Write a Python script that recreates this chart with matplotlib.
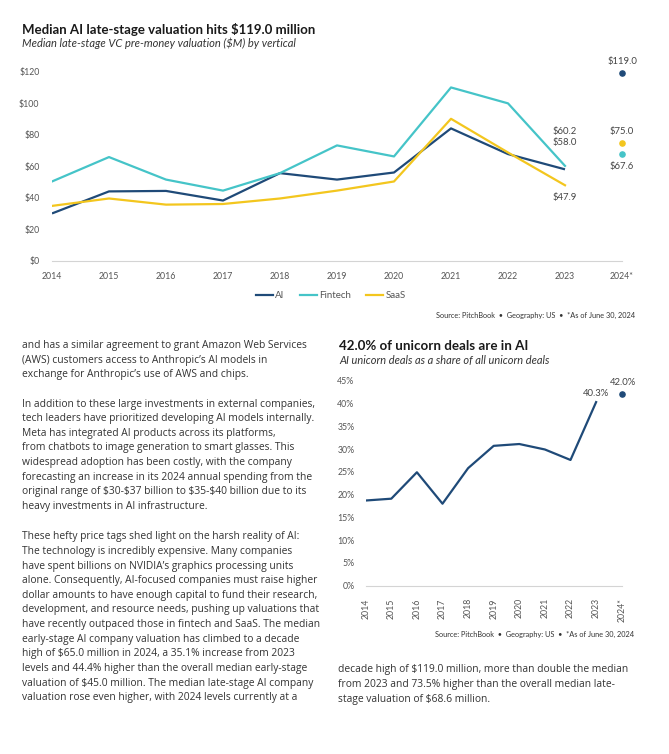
import matplotlib
matplotlib.use("Agg")
import matplotlib.pyplot as plt
from matplotlib.lines import Line2D

# ---------------- data ----------------
years = [2014, 2015, 2016, 2017, 2018, 2019, 2020, 2021, 2022, 2023]
year_2024 = 2024
ai_vals = [30.0, 44.0, 44.3, 38.2, 55.6, 51.5, 56.0, 84.0, 67.7, 58.0]
fintech_vals = [50.3, 65.8, 51.5, 44.5, 55.6, 73.2, 66.2, 110.0, 99.9, 60.2]
saas_vals = [34.8, 39.5, 35.6, 36.0, 39.5, 44.5, 50.3, 90.1, 68.7, 47.9]
ai_2024 = 119.0
fintech_2024 = 67.6
saas_2024 = 75.0
xtick_labels = ["2014", "2015", "2016", "2017", "2018", "2019", "2020",
                "2021", "2022", "2023", "2024*"]
yticks1 = [0, 20, 40, 60, 80, 100, 120]
ytick1_labels = ["\\$0", "\\$20", "\\$40", "\\$60", "\\$80", "\\$100", "\\$120"]

share_vals = [18.7, 19.1, 24.9, 18.0, 25.8, 30.7, 31.1, 29.9, 27.6, 40.3]
share_2024 = 42.0
yticks2 = [0, 5, 10, 15, 20, 25, 30, 35, 40, 45]
ytick2_labels = ["0%", "5%", "10%", "15%", "20%", "25%", "30%", "35%", "40%", "45%"]

# ---------------- style ----------------
C_AI = "#1f4a78"
C_FIN = "#45c4c8"
C_SAAS = "#f3c61e"
C_TXT = "#333333"
C_TICK = "#555555"
C_BASE = "#d4d4d4"
TICKFONT = "Lato"
BODYFONT = "Open Sans"

W, H = 669, 754
fig = plt.figure(figsize=(W / 100, H / 100), dpi=100)
fig.patch.set_facecolor("white")
renderer = fig.canvas.get_renderer()


def fx(px):
    return px / W


def fy(py):
    return 1 - py / H


def ftext(px, py, s, width=None, size=8, **kw):
    t = fig.text(fx(px), fy(py), s, fontsize=size, parse_math=False, **kw)
    if width is not None:
        w = t.get_window_extent(renderer).width
        t.set_fontsize(size * width / w)
    return t


def fit_size(s, width, **kw):
    t = fig.text(0, 0, s, fontsize=10, parse_math=False, **kw)
    w = t.get_window_extent(renderer).width
    t.remove()
    return 10 * width / w


# ---------------- chart 1 ----------------
ax1 = fig.add_axes([fx(52), fy(260.7), fx(622) - fx(52), (260.7 - 71.7) / H])
ax1.plot(years, ai_vals, color=C_AI, lw=1.6, label="AI", solid_capstyle="butt")
ax1.plot(years, fintech_vals, color=C_FIN, lw=1.6, label="Fintech")
ax1.plot(years, saas_vals, color=C_SAAS, lw=1.6, label="SaaS")
ax1.scatter([year_2024], [ai_2024], s=14, color=C_AI, clip_on=False, zorder=5)
ax1.scatter([year_2024], [fintech_2024], s=14, color=C_FIN, clip_on=False, zorder=5)
ax1.scatter([year_2024], [saas_2024], s=14, color=C_SAAS, clip_on=False, zorder=5)
ax1.set_xlim(2014, 2024)
ax1.set_ylim(0, 120)
ax1.set_xticks(years + [year_2024])
ax1.set_xticklabels(xtick_labels)
ax1.set_yticks(yticks1)
ax1.set_yticklabels(ytick1_labels)
for sp in ["top", "right", "left"]:
    ax1.spines[sp].set_visible(False)
ax1.spines["bottom"].set_color(C_BASE)
ax1.spines["bottom"].set_linewidth(0.8)
ax1.tick_params(axis="both", length=0, labelsize=6.3, labelcolor=C_TICK)
ax1.tick_params(axis="y", pad=9)
ax1.tick_params(axis="x", pad=8)
for lab in ax1.get_xticklabels() + ax1.get_yticklabels():
    lab.set_fontfamily(TICKFONT)

lblkw = dict(fontsize=6.8, color="#444444", fontfamily=TICKFONT, ha="center",
             parse_math=False)
ax1.annotate("$60.2", (years[-1], fintech_vals[-1]), xytext=(0, 34),
             textcoords="offset pixels", va="center", **lblkw)
ax1.annotate("$58.0", (years[-1], ai_vals[-1]), xytext=(0, 27),
             textcoords="offset pixels", va="center", **lblkw)
ax1.annotate("$47.9", (years[-1], saas_vals[-1]), xytext=(0, -12),
             textcoords="offset pixels", va="center", **lblkw)
ax1.annotate("$119.0", (year_2024, ai_2024), xytext=(0, 12),
             textcoords="offset pixels", va="center", annotation_clip=False, **lblkw)
ax1.annotate("$75.0", (year_2024, saas_2024), xytext=(0, 11),
             textcoords="offset pixels", va="center", annotation_clip=False, **lblkw)
ax1.annotate("$67.6", (year_2024, fintech_2024), xytext=(0, -12),
             textcoords="offset pixels", va="center", annotation_clip=False, **lblkw)

handles = [Line2D([], [], color=C_AI, lw=1.6),
           Line2D([], [], color=C_FIN, lw=1.6),
           Line2D([], [], color=C_SAAS, lw=1.6)]
leg = fig.legend(handles, ["AI", "Fintech", "SaaS"], loc="center",
                 bbox_to_anchor=(fx(331), fy(296)), ncol=3, frameon=False,
                 handlelength=1.7, handletextpad=0.25, columnspacing=1.6,
                 prop={"family": TICKFONT, "size": 7})
for t in leg.get_texts():
    t.set_color(C_TICK)

ftext(22, 29, "Median AI late-stage valuation hits $119.0 million", width=292,
      size=11, fontfamily="Lato", fontweight="bold", color="#1a1a1a", va="center")
ftext(22, 43, "Median late-stage VC pre-money valuation ($M) by vertical", width=274,
      size=8, fontfamily="Lato", style="italic", color=C_TXT, va="center")
ftext(635, 315, "Source: PitchBook  \u2022  Geography: US  \u2022  *As of June 30, 2024",
      width=203, size=6, fontfamily=TICKFONT, color=C_TXT, ha="right", va="center")

# ---------------- chart 2 ----------------
ax2 = fig.add_axes([fx(365.7), fy(585.7), fx(621.7) - fx(365.7), (585.7 - 380.7) / H])
ax2.plot(years, share_vals, color=C_AI, lw=1.6)
ax2.scatter([year_2024], [share_2024], s=14, color=C_AI, clip_on=False, zorder=5)
ax2.set_xlim(2014, 2024)
ax2.set_ylim(0, 45)
ax2.set_xticks(years + [year_2024])
ax2.set_xticklabels(xtick_labels, rotation=90)
ax2.set_yticks(yticks2)
ax2.set_yticklabels(ytick2_labels)
for sp in ["top", "right", "left"]:
    ax2.spines[sp].set_visible(False)
ax2.spines["bottom"].set_color(C_BASE)
ax2.spines["bottom"].set_linewidth(0.8)
ax2.tick_params(axis="both", length=0, labelsize=6.3, labelcolor=C_TICK)
ax2.tick_params(axis="y", pad=8)
ax2.tick_params(axis="x", pad=9)
for lab in ax2.get_xticklabels() + ax2.get_yticklabels():
    lab.set_fontfamily(TICKFONT)
ax2.annotate("40.3%", (years[-1], share_vals[-1]), xytext=(0, 9),
             textcoords="offset pixels", va="center", **lblkw)
ax2.annotate("42.0%", (year_2024, share_2024), xytext=(1, 12),
             textcoords="offset pixels", va="center", annotation_clip=False, **lblkw)

ftext(339, 346, "42.0% of unicorn deals are in AI", width=188,
      size=11, fontfamily="Lato", fontweight="bold", color="#1a1a1a", va="center")
ftext(339, 360.5, "AI unicorn deals as a share of all unicorn deals", width=209,
      size=8, fontfamily="Lato", style="italic", color=C_TXT, va="center")
ftext(634, 634, "Source: PitchBook  \u2022  Geography: US  \u2022  *As of June 30, 2024",
      width=201, size=6, fontfamily=TICKFONT, color=C_TXT, ha="right", va="center")

# ---------------- body text ----------------
para1 = ["and has a similar agreement to grant Amazon Web Services",
         "(AWS) customers access to Anthropic\u2019s AI models in",
         "exchange for Anthropic\u2019s use of AWS and chips."]
para2 = ["In addition to these large investments in external companies,",
         "tech leaders have prioritized developing AI models internally.",
         "Meta has integrated AI products across its platforms,",
         "from chatbots to image generation to smart glasses. This",
         "widespread adoption has been costly, with the company",
         "forecasting an increase in its 2024 annual spending from the",
         "original range of $30-$37 billion to $35-$40 billion due to its",
         "heavy investments in AI infrastructure."]
para3 = ["These hefty price tags shed light on the harsh reality of AI:",
         "The technology is incredibly expensive. Many companies",
         "have spent billions on NVIDIA\u2019s graphics processing units",
         "alone. Consequently, AI-focused companies must raise higher",
         "dollar amounts to have enough capital to fund their research,",
         "development, and resource needs, pushing up valuations that",
         "have recently outpaced those in fintech and SaaS. The median",
         "early-stage AI company valuation has climbed to a decade",
         "high of $65.0 million in 2024, a 35.1% increase from 2023",
         "levels and 44.4% higher than the overall median early-stage",
         "valuation of $45.0 million. The median late-stage AI company",
         "valuation rose even higher, with 2024 levels currently at a"]
para4 = ["decade high of $119.0 million, more than double the median",
         "from 2023 and 73.5% higher than the overall median late-",
         "stage valuation of $68.6 million."]

body_size = fit_size(para2[0], 290, fontfamily=BODYFONT)
LS = 14.65


def draw_para(lines, x0, y0, ls=LS):
    for i, s in enumerate(lines):
        ftext(x0, y0 + i * ls, s, size=body_size, fontfamily=BODYFONT,
              color=C_TXT, va="center")


draw_para(para1, 22, 345.5)
draw_para(para2, 22, 404)
draw_para(para3, 22, 536.7)
draw_para(para4, 338, 669.5, ls=15)

fig.savefig("out.png", dpi=100, facecolor="white")
